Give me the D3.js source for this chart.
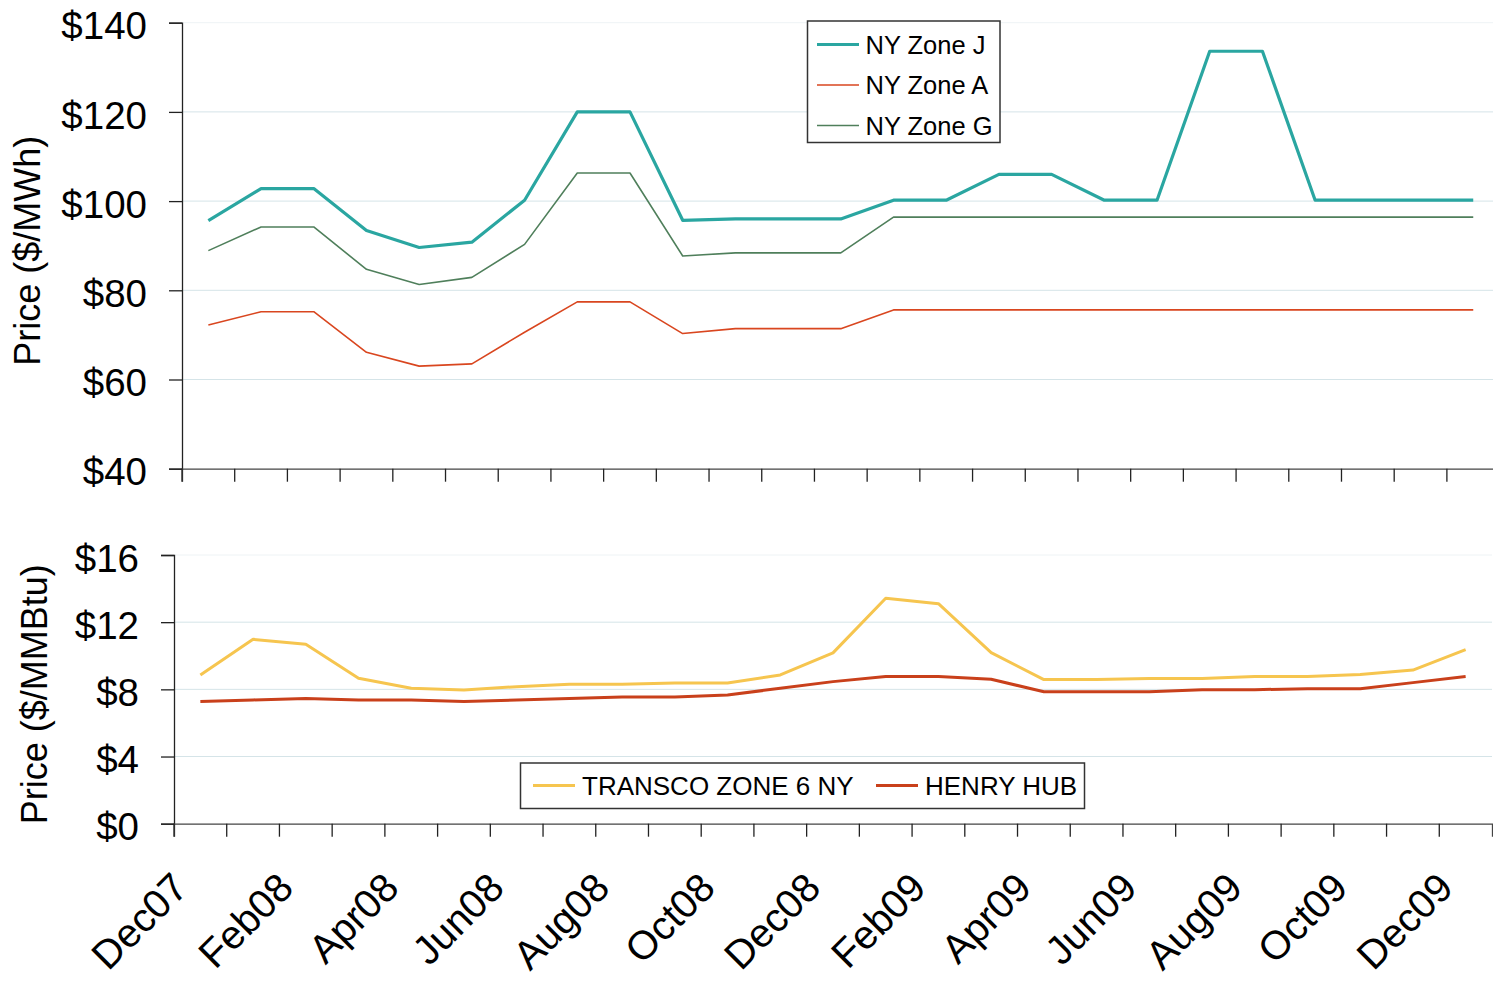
<!DOCTYPE html>
<html>
<head>
<meta charset="utf-8">
<script src="https://cdn.jsdelivr.net/npm/d3@7.9.0/dist/d3.min.js"></script>
<style>
  body { margin: 0; background: #fff; }
  svg text { font-family: "Liberation Sans", Arial, sans-serif; fill: #000; }
</style>
</head>
<body>
<svg id="chart" width="1493" height="981"></svg>
<script>
const months = ['Dec07','Jan08','Feb08','Mar08','Apr08','May08','Jun08','Jul08','Aug08','Sep08','Oct08','Nov08',
  'Dec08','Jan09','Feb09','Mar09','Apr09','May09','Jun09','Jul09','Aug09','Sep09','Oct09','Nov09','Dec09'];
const labelMonths = months.filter((_, i) => i % 2 === 0);

// power prices, $/MWh
const zoneJ = [95.6,102.8,102.8,93.4,89.6,90.8,100.2,120,120,95.7,96,96,96,100.2,100.2,106,106,100.2,100.2,133.6,133.6,100.2,100.2,100.2,100.2];
const zoneA = [72.2,75.2,75.2,66.1,63.0,63.5,70.6,77.4,77.4,70.3,71.4,71.4,71.4,75.6,75.6,75.6,75.6,75.6,75.6,75.6,75.6,75.6,75.6,75.6,75.6];
const zoneG = [88.9,94.2,94.2,84.7,81.3,82.9,90.3,106.3,106.3,87.7,88.4,88.4,88.4,96.4,96.4,96.4,96.4,96.4,96.4,96.4,96.4,96.4,96.4,96.4,96.4];

// gas prices, $/MMBtu
const transco = [8.86,10.98,10.68,8.66,8.06,7.96,8.16,8.30,8.30,8.38,8.38,8.86,10.17,13.42,13.10,10.19,8.58,8.58,8.64,8.64,8.76,8.76,8.88,9.15,10.36];
const henryHub = [7.27,7.37,7.45,7.37,7.37,7.27,7.37,7.45,7.55,7.55,7.67,8.06,8.46,8.76,8.76,8.6,7.86,7.86,7.86,7.98,7.98,8.04,8.04,8.40,8.76];

const powerTicks = [40, 60, 80, 100, 120, 140];
const gasTicks = [0, 4, 8, 12, 16];

const svg = d3.select('#chart');

function panel(opts) {
  const { left, right, top, bottom, domain, ticks, title, titleX, series } = opts;
  const x = d3.scaleBand().domain(months).range([left, right]);
  const y = d3.scaleLinear().domain(domain).range([bottom, top]);
  const g = svg.append('g');

  // gridlines
  g.append('g').selectAll('line').data(ticks.slice(1)).join('line')
    .attr('x1', left).attr('x2', right)
    .attr('y1', d => y(d)).attr('y2', d => y(d))
    .attr('stroke', (d, i) => i === ticks.length - 2 ? '#eef3f5' : '#d5e4e8')
    .attr('stroke-width', 1);

  // y axis
  const ya = g.append('g').attr('transform', `translate(${left},0)`)
    .call(d3.axisLeft(y).tickValues(ticks).tickFormat(d => '$' + d).tickSize(13).tickPadding(22));
  ya.select('.domain').attr('stroke', '#222').attr('stroke-width', 1.3);
  ya.selectAll('.tick line').attr('stroke', '#222').attr('stroke-width', 1.3);
  ya.selectAll('.tick text').attr('font-size', 38.5).attr('dy', '0.42em').attr('fill', '#000');

  // x axis, ticks at month boundaries
  const xa = g.append('g').attr('transform', `translate(0,${bottom})`)
    .call(d3.axisBottom(x).tickSize(13).tickFormat(''));
  xa.select('.domain').attr('stroke', '#444').attr('stroke-width', 1.3);
  xa.selectAll('.tick').attr('transform', d => `translate(${x(d)},0)`);
  xa.selectAll('.tick line').attr('stroke', '#222').attr('stroke-width', 1.3);

  // y title
  g.append('text')
    .attr('transform', `translate(${titleX},${(top + bottom) / 2 + 5}) rotate(-90)`)
    .attr('text-anchor', 'middle').attr('font-size', 36)
    .text(title);

  // lines
  series.forEach(s => {
    const line = d3.line().x((d, i) => x(months[i]) + x.bandwidth() / 2).y(d => y(d));
    g.append('path').datum(s.values)
      .attr('fill', 'none').attr('stroke', s.color).attr('stroke-width', s.width)
      .attr('stroke-linejoin', 'round')
      .attr('d', line);
  });
  return { x, y };
}

const powerPanel = panel({
  left: 182, right: 1499.6, top: 22.7, bottom: 468.7,
  domain: [40, 140], ticks: powerTicks, title: 'Price ($/MWh)', titleX: 40,
  series: [
    { name: 'NY Zone G', values: zoneG, color: '#4f7f5b', width: 1.6 },
    { name: 'NY Zone A', values: zoneA, color: '#d9461f', width: 1.6 },
    { name: 'NY Zone J', values: zoneJ, color: '#2aa6a1', width: 3.2 }
  ]
});

const gasPanel = panel({
  left: 174, right: 1492, top: 555, bottom: 823.7,
  domain: [0, 16], ticks: gasTicks, title: 'Price ($/MMBtu)', titleX: 47,
  series: [
    { name: 'HENRY HUB', values: henryHub, color: '#c9401b', width: 3 },
    { name: 'TRANSCO ZONE 6 NY', values: transco, color: '#f6c54f', width: 3 }
  ]
});

// month labels under the gas panel
svg.append('g').selectAll('text').data(labelMonths).join('text')
  .attr('transform', d => `translate(${gasPanel.x(d) + 16},890) rotate(-45)`)
  .attr('text-anchor', 'end').attr('font-size', 40)
  .text(d => d);

// legend, power panel
const leg1 = svg.append('g');
leg1.append('rect').attr('x', 807.5).attr('y', 21).attr('width', 192.5).attr('height', 121.5)
  .attr('fill', '#fff').attr('stroke', '#333').attr('stroke-width', 1.5);
const leg1Items = [
  { name: 'NY Zone J', color: '#2aa6a1', width: 3.2 },
  { name: 'NY Zone A', color: '#d9461f', width: 1.6 },
  { name: 'NY Zone G', color: '#4f7f5b', width: 1.6 }
];
leg1Items.forEach((d, i) => {
  const cy = 44.5 + i * 40.5;
  leg1.append('line').attr('x1', 817).attr('x2', 859).attr('y1', cy).attr('y2', cy)
    .attr('stroke', d.color).attr('stroke-width', d.width);
  leg1.append('text').attr('x', 865.5).attr('y', cy).attr('dy', '0.36em')
    .attr('font-size', 25.5).text(d.name);
});

// legend, gas panel
const leg2 = svg.append('g');
leg2.append('rect').attr('x', 520.5).attr('y', 763).attr('width', 564).attr('height', 45.5)
  .attr('fill', '#fff').attr('stroke', '#333').attr('stroke-width', 1.5);
const leg2Items = [
  { name: 'TRANSCO ZONE 6 NY', color: '#f6c54f', x: 533 },
  { name: 'HENRY HUB', color: '#c9401b', x: 876 }
];
leg2Items.forEach(d => {
  leg2.append('line').attr('x1', d.x).attr('x2', d.x + 42).attr('y1', 785.5).attr('y2', 785.5)
    .attr('stroke', d.color).attr('stroke-width', 3);
  leg2.append('text').attr('x', d.x + 49).attr('y', 785.5).attr('dy', '0.36em')
    .attr('font-size', 26).text(d.name);
});
</script>
</body>
</html>
